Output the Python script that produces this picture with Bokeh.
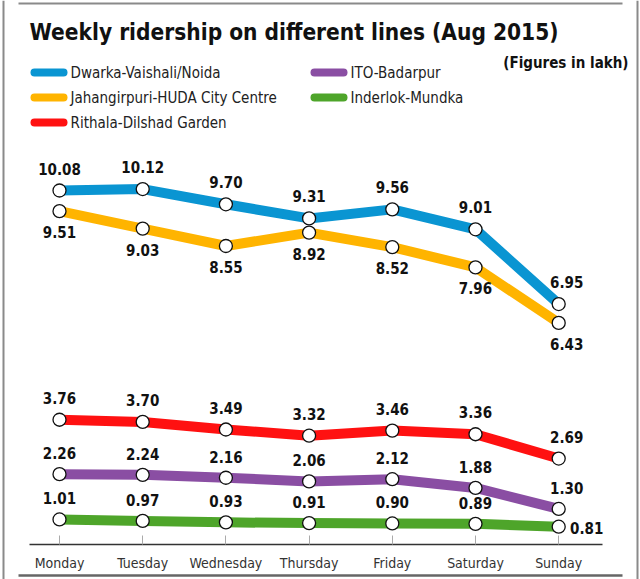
from bokeh.plotting import figure
from bokeh.models import Range1d, LinearAxis, FixedTicker
from bokeh.core.properties import value
from bokeh.embed import file_html
from bokeh.resources import INLINE

days = ["Monday", "Tuesday", "Wednesday", "Thursday", "Friday", "Saturday", "Sunday"]
dwarka = [10.08, 10.12, 9.70, 9.31, 9.56, 9.01, 6.95]
jahangirpuri = [9.51, 9.03, 8.55, 8.92, 8.52, 7.96, 6.43]
rithala = [3.76, 3.70, 3.49, 3.32, 3.46, 3.36, 2.69]
ito = [2.26, 2.24, 2.16, 2.06, 2.12, 1.88, 1.30]
inderlok = [1.01, 0.97, 0.93, 0.91, 0.90, 0.89, 0.81]
names = ["Dwarka-Vaishali/Noida", "Jahangirpuri-HUDA City Centre", "Rithala-Dilshad Garden",
         "ITO-Badarpur", "Inderlok-Mundka"]
colors = ["#0a95d2", "#ffb400", "#ff1111", "#8a4ea3", "#4ea52a"]
title_text = "Weekly ridership on different lines (Aug 2015)"
note_text = "(Figures in lakh)"

W, H = 640, 579
PX_X = 83.2          # pixels per day
X0PX = 59            # pixel of Monday
PX_Y = 36.27         # pixels per lakh
Y_REF_PX, Y_REF_V = 190, 10.08

x0 = -X0PX / PX_X
x1 = x0 + W / PX_X
y1 = Y_REF_V + Y_REF_PX / PX_Y
y0 = y1 - H / PX_Y

def X(px):
    return x0 + px / PX_X

def Y(py):
    return y1 - py / PX_Y

COND = "'DejaVu Sans Condensed', 'Roboto Condensed', 'Open Sans', sans-serif"

p = figure(width=W, height=H, x_range=Range1d(x0, x1), y_range=Range1d(y0, y1),
           output_backend="svg", toolbar_location=None, min_border=0,
           x_axis_type=None, y_axis_type=None)
p.outline_line_color = None
p.background_fill_color = "white"
p.border_fill_color = "white"

# frame border
p.line(x=[X(3), X(3)], y=[Y(0), Y(579)], line_color="#8a8a8a", line_width=2)
p.line(x=[X(637), X(637)], y=[Y(0), Y(579)], line_color="#8a8a8a", line_width=2)
p.line(x=[X(18), X(622)], y=[Y(3), Y(3)], line_color="#8a8a8a", line_width=2)
p.line(x=[X(18), X(622)], y=[Y(575), Y(575)], line_color="#666666", line_width=2.5)

# title & note
p.text(x=[X(29)], y=[Y(31)], text=[title_text], text_font=value(COND),
       text_font_size="22.5px", text_font_style="bold", text_color="#111111",
       text_align="left", text_baseline="middle")
p.text(x=[X(628)], y=[Y(62)], text=[note_text], text_font=value(COND),
       text_font_size="15px", text_font_style="bold", text_color="#111111",
       text_align="right", text_baseline="middle")

# legend
leg_pos = [(34, 72), (34, 97), (34, 122), (314, 72), (314, 97)]
for (lx, ly), nm, c in zip(leg_pos, names, colors):
    p.segment(x0=[X(lx)], y0=[Y(ly)], x1=[X(lx + 29)], y1=[Y(ly)], line_color=c,
              line_width=8, line_cap="round")
    p.text(x=[X(lx + 36)], y=[Y(ly)], text=[nm], text_font=value(COND),
           text_font_size="15px", text_color="#222222", text_align="left",
           text_baseline="middle")

xs = list(range(len(days)))
series = [dwarka, jahangirpuri, rithala, ito, inderlok]
label_dy = [-22, 21, -22, -21, -21]

for vals, c, dy in zip(series, colors, label_dy):
    p.line(x=xs, y=vals, line_color=c, line_width=10, line_join="round")

for vals, c, dy in zip(series, colors, label_dy):
    p.scatter(x=xs, y=vals, size=13, marker="circle", fill_color="white",
              line_color="#111111", line_width=1.3)

for k, (vals, dy) in enumerate(zip(series, label_dy)):
    xo = [0, 0, 0, 0, 0, 0, 8]
    yo = [dy] * 7
    if k == 4:
        xo[6] = 28
        yo[6] = 1
    p.text(x=xs, y=vals, text=["%.2f" % v for v in vals], x_offset=xo, y_offset=yo,
           text_font=value(COND), text_font_size="15px", text_font_style="bold",
           text_color="#111111", text_align="center", text_baseline="middle")

# baseline
p.line(x=[X(29), X(602)], y=[Y(544), Y(544)], line_color="#333333", line_width=1.5)

ax = LinearAxis(ticker=FixedTicker(ticks=xs),
                major_label_overrides={i: d for i, d in enumerate(days)},
                fixed_location=Y(544))
ax.axis_line_color = None
ax.major_tick_in = 9
ax.major_tick_out = 0
ax.major_tick_line_color = "#aaaaaa"
ax.minor_tick_line_color = None
ax.major_label_text_font = COND
ax.major_label_text_font_size = "14px"
ax.major_label_text_color = "#333333"
ax.major_label_standoff = 10
p.add_layout(ax, "below")

open("out.html", "w").write(file_html(p, INLINE))
